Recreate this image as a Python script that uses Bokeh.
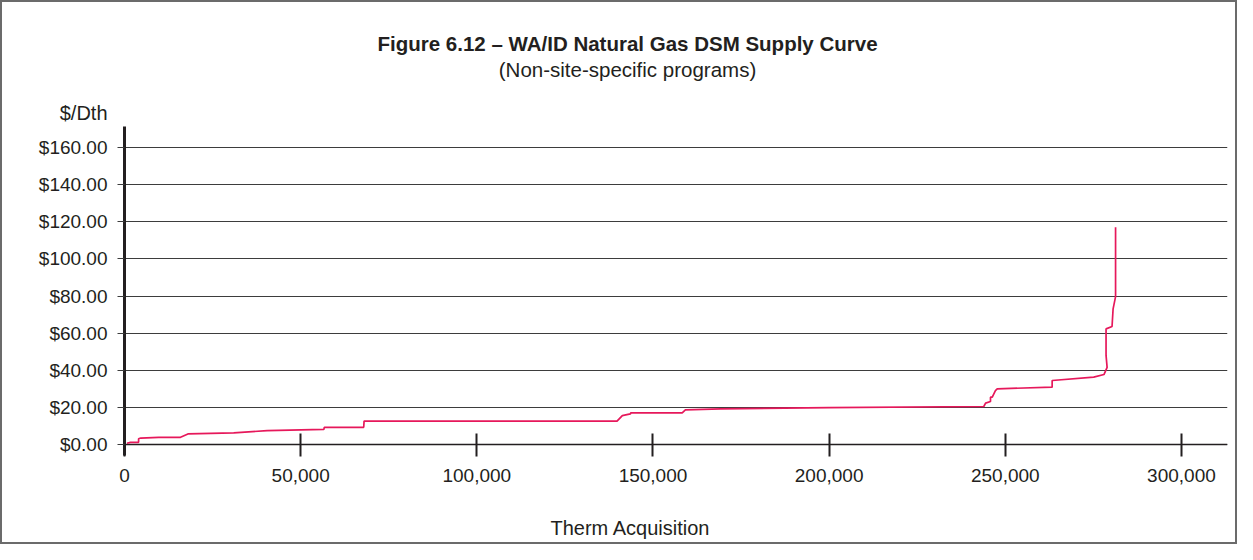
from bokeh.plotting import figure
from bokeh.layouts import column
from bokeh.models import Range1d, FixedTicker
from bokeh.core.properties import value
from bokeh.embed import file_html
from bokeh.resources import INLINE

# Supply curve vertices: cumulative therms acquired vs levelized cost ($/Dth)
therms = [700, 1700, 4000, 4000, 4600, 9700, 15900, 18000, 31000, 40500, 56600, 56700,
          67900, 68000, 139800, 141300, 143600, 143700, 158300, 159200, 169200, 200000,
          243900, 244400, 245800, 245800, 246300, 247200, 247700, 263300, 263300, 275100,
          278000, 278900, 278600, 278600, 280300, 280600, 281300, 281300]
cost = [0.7, 1.2, 1.2, 3.1, 3.5, 3.9, 3.9, 5.7, 6.3, 7.5, 8.2, 9.3,
        9.3, 12.6, 12.6, 15.6, 16.5, 17.1, 17.1, 18.7, 19.2, 19.9,
        20.5, 22.3, 23.2, 25.5, 25.5, 29.1, 30.0, 30.9, 34.5, 36.3,
        37.7, 41.6, 48.0, 62.3, 63.6, 73.1, 79.7, 117.1]

x_ticks = [0, 50000, 100000, 150000, 200000, 250000, 300000]
x_tick_labels = ["0", "50,000", "100,000", "150,000", "200,000", "250,000", "300,000"]
y_ticks = [0, 20, 40, 60, 80, 100, 120, 140, 160]
y_tick_labels = ["$0.00", "$20.00", "$40.00", "$60.00", "$80.00", "$100.00",
                 "$120.00", "$140.00", "$160.00"]

title_text = "Figure 6.12 \u2013 WA/ID Natural Gas DSM Supply Curve"
subtitle_text = "(Non-site-specific programs)"
x_title = "Therm Acquisition"
y_title = "$/Dth"

FONT = "Liberation Sans"
TXT = "#231f20"
W, H = 1233, 540
FL, FR, FT, FB = 122, 1225, 124, 453   # frame edges in canvas pixels
BOT = 498                              # where the bottom text strip starts


def no_align(f):
    if "frame_align" in f.properties():
        f.frame_align = False


def text_strip(h):
    f = figure(width=W, height=h, output_backend="svg", toolbar_location=None,
               x_range=Range1d(0, W), y_range=Range1d(h, 0),
               x_axis_type=None, y_axis_type=None,
               min_border_left=0, min_border_right=0, min_border_top=0, min_border_bottom=0)
    f.outline_line_color = None
    f.grid.visible = False
    f.background_fill_color = "white"
    f.border_fill_color = "white"
    no_align(f)
    return f


# ---- top strip: title, subtitle, y-axis unit
top = text_strip(FT)
top.text(x=[625], y=[41], text=[title_text], text_font=value(FONT), text_font_size="20.5px",
         text_font_style="bold", text_color=TXT, text_align="center", text_baseline="middle")
top.text(x=[625], y=[67], text=[subtitle_text], text_font=value(FONT), text_font_size="20.5px",
         text_color=TXT, text_align="center", text_baseline="middle")
top.text(x=[105], y=[110], text=[y_title], text_font=value(FONT), text_font_size="20px",
         text_color=TXT, text_align="right", text_baseline="middle")

# ---- main chart
p = figure(width=W, height=BOT - FT, output_backend="svg", toolbar_location=None,
           x_range=Range1d(0, 313070), y_range=Range1d(-5.9, 171.3),
           min_border_left=FL, min_border_right=W - FR,
           min_border_top=0, min_border_bottom=BOT - FB)
no_align(p)
p.outline_line_color = None
p.background_fill_color = "white"
p.border_fill_color = "white"

p.xgrid.grid_line_color = None
p.ygrid.ticker = FixedTicker(ticks=y_ticks)
p.ygrid.grid_line_color = "#3d3d3d"
p.ygrid.grid_line_width = 1

p.yaxis.ticker = FixedTicker(ticks=y_ticks)
p.yaxis.major_label_overrides = dict(zip(y_ticks, y_tick_labels))
p.yaxis.axis_line_width = 3
p.yaxis.axis_line_color = TXT
p.yaxis.major_tick_in = 0
p.yaxis.major_tick_out = 7
p.yaxis.major_tick_line_color = "#3d3d3d"
p.yaxis.minor_tick_line_color = None
p.yaxis.major_label_standoff = 10
p.yaxis.major_label_text_font = FONT
p.yaxis.major_label_text_font_size = "19px"
p.yaxis.major_label_text_color = TXT

p.xaxis.ticker = FixedTicker(ticks=x_ticks)
p.xaxis.major_label_overrides = dict(zip(x_ticks, x_tick_labels))
p.xaxis.axis_line_color = None
p.xaxis.major_tick_in = 22
p.xaxis.major_tick_out = 1
p.xaxis.major_tick_line_width = 2
p.xaxis.major_tick_line_color = TXT
p.xaxis.minor_tick_line_color = None
p.xaxis.major_label_standoff = 12
p.xaxis.major_label_text_font = FONT
p.xaxis.major_label_text_font_size = "19px"
p.xaxis.major_label_text_color = TXT

p.line(x=[0, 313070], y=[0, 0], line_color=TXT, line_width=1.5)
p.line(x=therms, y=cost, line_color="#e6185b", line_width=1.7)

# ---- bottom strip: x-axis title
bottom = text_strip(H - BOT)
bottom.text(x=[628], y=[27], text=[x_title], text_font=value(FONT), text_font_size="20px",
            text_color=TXT, text_align="center", text_baseline="middle")

layout = column(top, p, bottom, spacing=0)
layout.styles = {"border": "2px solid #6b6b6b", "background-color": "white"}

open("out.html", "w").write(file_html(layout, INLINE))
